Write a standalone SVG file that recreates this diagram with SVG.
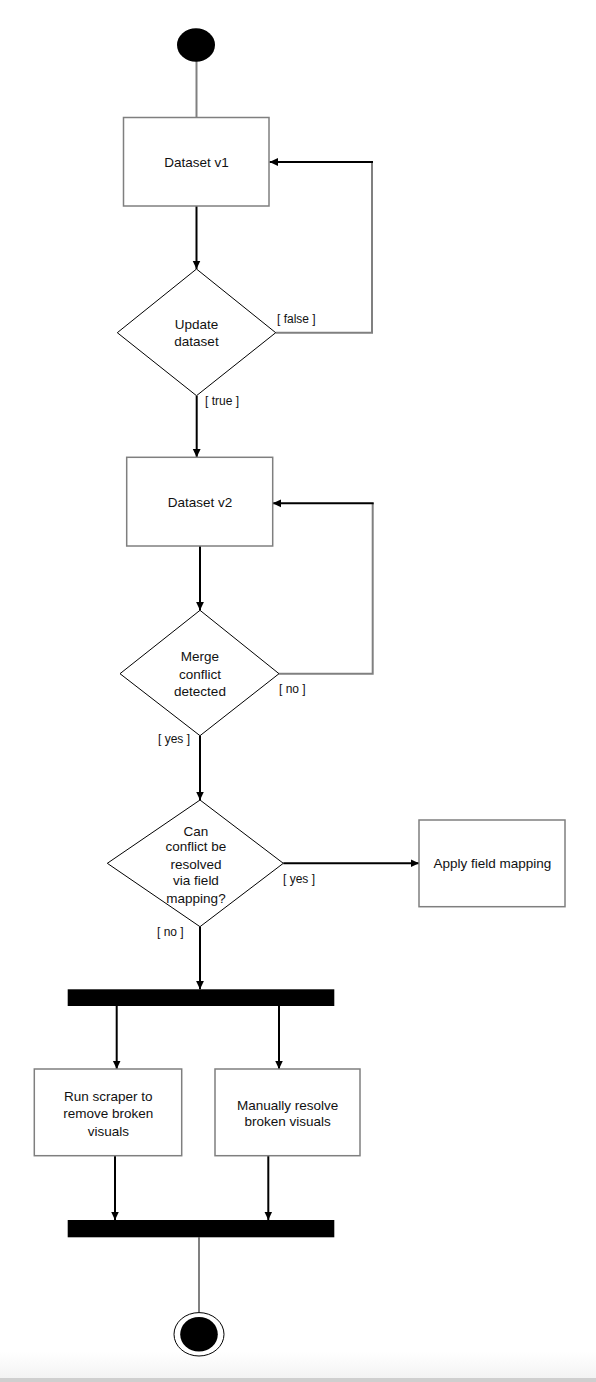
<svg xmlns="http://www.w3.org/2000/svg" width="596" height="1382" viewBox="0 0 596 1382">
<defs>
<marker id="ah" markerUnits="userSpaceOnUse" markerWidth="9" markerHeight="9" refX="8.5" refY="4.5" orient="auto">
<path d="M0,0.5 L8.5,4.5 L0,8.5 z" fill="#000"/>
</marker>
<linearGradient id="fade" x1="0" y1="0" x2="0" y2="1">
<stop offset="0" stop-color="#ffffff"/>
<stop offset="1" stop-color="#f3f3f3"/>
</linearGradient>
</defs>
<style>
.box{fill:#fff;stroke:#7f7f7f;stroke-width:1.5}
.dia{fill:#fff;stroke:#000;stroke-width:1}
.t{font-family:"Liberation Sans",Arial,sans-serif;font-size:13.5px;fill:#111;text-anchor:middle}
.lbl{font-family:"Liberation Sans",Arial,sans-serif;font-size:12px;fill:#111}
.arr{fill:none;stroke:#000;stroke-width:2;marker-end:url(#ah)}
.gl{fill:none;stroke:#808080;stroke-width:2}
.bar{fill:#000}
</style>
<rect x="0" y="0" width="596" height="1382" fill="#fff"/>
<rect x="0" y="1352" width="596" height="26" fill="url(#fade)"/>
<rect x="0" y="1378" width="596" height="4" fill="#cfcfcf"/>

<g id="connectors">
<line class="gl" x1="196.5" y1="61" x2="196.5" y2="117.5"/>
<line class="arr" x1="196.5" y1="206" x2="196.5" y2="269"/>
<polyline class="gl" points="275.7,332.7 372,332.7 372,162"/>
<line class="arr" x1="373" y1="162" x2="269.5" y2="162"/>
<line class="arr" x1="196.7" y1="395.7" x2="196.7" y2="457.3"/>
<line class="arr" x1="200" y1="546" x2="200" y2="610.3"/>
<polyline class="gl" points="279,673.7 372.7,673.7 372.7,503.3"/>
<line class="arr" x1="373.7" y1="503.3" x2="272.7" y2="503.3"/>
<line class="arr" x1="200" y1="735.7" x2="200" y2="800"/>
<line class="arr" x1="283.3" y1="863.3" x2="419" y2="863.3"/>
<line class="arr" x1="200" y1="926.7" x2="200" y2="989.3"/>
<line class="arr" x1="116.7" y1="1006" x2="116.7" y2="1069"/>
<line class="arr" x1="279" y1="1006" x2="279" y2="1069"/>
<line class="arr" x1="115" y1="1155.7" x2="115" y2="1220"/>
<line class="arr" x1="268.3" y1="1155.7" x2="268.3" y2="1220"/>
<line class="gl" x1="199" y1="1237.3" x2="199" y2="1312.6"/>
<text class="lbl" x="277" y="323">[ false ]</text>
<text class="lbl" x="205" y="405">[ true ]</text>
<text class="lbl" x="279" y="693">[ no ]</text>
<text class="lbl" x="158" y="743">[ yes ]</text>
<text class="lbl" x="283" y="883">[ yes ]</text>
<text class="lbl" x="157" y="936">[ no ]</text>
</g>

<g id="start"><ellipse cx="196" cy="45" rx="19" ry="16.7" fill="#000"/></g>

<g id="dataset-v1">
<rect class="box" x="123.5" y="117.5" width="145.5" height="88.5"/>
<text class="t" x="196.5" y="167">Dataset v1</text>
</g>

<g id="update-dataset">
<polygon class="dia" points="196.5,269 275.7,332.7 196.5,395.7 117.3,332.7"/>
<text class="t" x="196.5" y="328.7">Update</text>
<text class="t" x="196.5" y="346.4">dataset</text>
</g>

<g id="dataset-v2">
<rect class="box" x="126.7" y="457.3" width="146" height="88.7"/>
<text class="t" x="200" y="506.7">Dataset v2</text>
</g>

<g id="merge-conflict">
<polygon class="dia" points="200,610.3 279,673.7 200,735.7 120,673.7"/>
<text class="t" x="200" y="661.4">Merge</text>
<text class="t" x="200" y="678.7">conflict</text>
<text class="t" x="200" y="696.4">detected</text>
</g>

<g id="can-resolve">
<polygon class="dia" points="200,800 283.3,863.3 200,926.7 107.3,863.3"/>
<text class="t" x="196" y="836">Can</text>
<text class="t" x="196" y="851.4">conflict be</text>
<text class="t" x="196" y="869.4">resolved</text>
<text class="t" x="196" y="885.4">via field</text>
<text class="t" x="196" y="903">mapping?</text>
</g>

<g id="apply-field-mapping">
<rect class="box" x="419" y="820" width="146" height="86.7"/>
<text class="t" x="492.3" y="868">Apply field mapping</text>
</g>

<g id="fork"><rect class="bar" x="67.7" y="989.3" width="266.6" height="16.7"/></g>

<g id="run-scraper">
<rect class="box" x="34.3" y="1069" width="147.4" height="86.7"/>
<text class="t" x="108.3" y="1100.7">Run scraper to</text>
<text class="t" x="108.3" y="1118">remove broken</text>
<text class="t" x="108.3" y="1135.7">visuals</text>
</g>

<g id="manually-resolve">
<rect class="box" x="215" y="1069" width="145" height="86.7"/>
<text class="t" x="287.7" y="1109.7">Manually resolve</text>
<text class="t" x="287.7" y="1126.4">broken visuals</text>
</g>

<g id="join"><rect class="bar" x="67.7" y="1220" width="266.6" height="17.3"/></g>

<g id="end">
<ellipse cx="199" cy="1334.3" rx="25" ry="21.7" fill="#fff" stroke="#000" stroke-width="1"/>
<ellipse cx="199" cy="1334.3" rx="18.8" ry="17.3" fill="#000"/>
</g>
</svg>
